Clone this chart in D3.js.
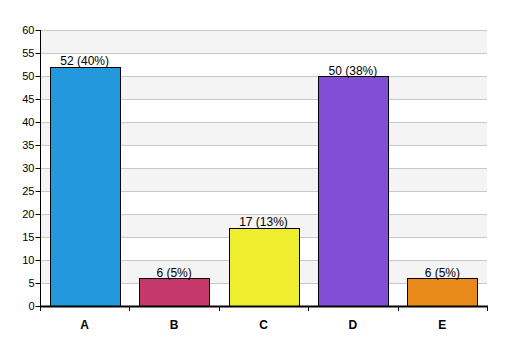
<!DOCTYPE html>
<html><head><meta charset="utf-8">
<script src="https://cdn.jsdelivr.net/npm/d3@7"></script>
<style>body{margin:0;background:#fff}svg{display:block}</style>
</head><body>
<script>
const categories = ["A","B","C","D","E"];
const values = [52, 6, 17, 50, 6];
const labels = ["52 (40%)","6 (5%)","17 (13%)","50 (38%)","6 (5%)"];
const colors = ["#2398dc","#c4396a","#eeee2e","#824ed6","#e88a1a"];
const yTicks = [0,5,10,15,20,25,30,35,40,45,50,55,60];

(function(){
const W=507,H=356, pL=40, pR=487, pT=30, pB=306;
const svg=d3.select("body").append("svg").attr("width",W).attr("height",H);
const x=d3.scaleBand().domain(categories).range([pL,pR]).paddingInner(0.22).paddingOuter(0.11);
const xb=d3.scaleBand().domain(categories).range([pL,pR]);
const y=d3.scaleLinear().domain([0,60]).range([pB,pT]);

// bands
for(let i=0;i<yTicks.length-1;i++){
  if(i%2===1){
    svg.append("rect").attr("x",pL).attr("width",pR-pL)
      .attr("y",y(yTicks[i+1])).attr("height",y(yTicks[i])-y(yTicks[i+1])).attr("fill","#f4f4f4");
  }
}
// grid
svg.append("g").selectAll("line").data(yTicks.filter(d=>d>0)).join("line")
  .attr("x1",pL).attr("x2",pR).attr("y1",d=>Math.round(y(d))+0.5).attr("y2",d=>Math.round(y(d))+0.5)
  .attr("stroke","#c8c8c8");

// y axis
const ya=svg.append("g").attr("transform",`translate(${pL+0.5},0)`)
  .call(d3.axisLeft(y).tickValues(yTicks).tickSize(5).tickPadding(1));
ya.select(".domain").attr("stroke","#000").attr("d",`M0,${pT}V${pB}`);
ya.selectAll(".tick line").attr("stroke","#000");
ya.selectAll("text").attr("font-family","Arial, Liberation Sans, sans-serif").attr("font-size",11).attr("fill","#000");

// bars
svg.append("g").selectAll("rect").data(values).join("rect")
  .attr("x",(d,i)=>Math.round(x(categories[i]))+0.5).attr("width",Math.round(x.bandwidth()))
  .attr("y",d=>Math.round(y(d))+0.5).attr("height",d=>pB-Math.round(y(d)))
  .attr("fill",(d,i)=>colors[i]).attr("stroke","#000").attr("stroke-width",1);

// value labels
svg.append("g").selectAll("text").data(values).join("text")
  .attr("x",(d,i)=>x(categories[i])+x.bandwidth()/2).attr("y",d=>y(d)-1.5)
  .attr("text-anchor","middle").attr("font-family","Arial, Liberation Sans, sans-serif")
  .attr("font-size",12).attr("fill","#000").text((d,i)=>labels[i]);

// x axis
const xa=svg.append("g").attr("transform",`translate(0,${pB})`)
  .call(d3.axisBottom(xb).tickSize(0).tickPadding(14));
xa.select(".domain").remove();
svg.append("line").attr("x1",pL).attr("x2",pR+1).attr("y1",pB+0.5).attr("y2",pB+0.5).attr("stroke","#000").attr("stroke-width",2);
const bounds=[pL].concat(categories.map(c=>xb(c)+xb.bandwidth()));
svg.append("g").selectAll("line").data(bounds).join("line")
  .attr("x1",d=>Math.round(d)+0.5).attr("x2",d=>Math.round(d)+0.5).attr("y1",pB).attr("y2",pB+5).attr("stroke","#000");
xa.selectAll("text").attr("font-family","Arial, Liberation Sans, sans-serif").attr("font-size",12).attr("font-weight","bold").attr("fill","#000");
})();
</script>
</body></html>
